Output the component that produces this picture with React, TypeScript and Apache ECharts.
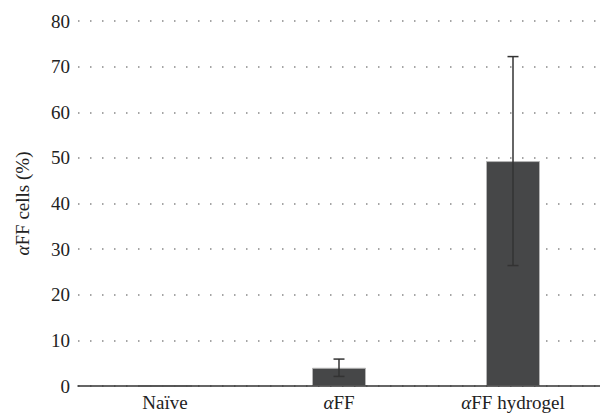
import React, { useEffect, useRef } from "react";
import * as echarts from "echarts";

const categories = ["Naïve", "αFF", "αFF hydrogel"];
const categoryLabels = ["Naïve", "{i|α}FF", "{i|α}FF hydrogel"];
const means = [0, 4.0, 49.3];
const errors = [0, 1.9, 22.9];
const yTicks = [0, 10, 20, 30, 40, 50, 60, 70, 80];

export default function App() {
  const ref = useRef<HTMLDivElement>(null);
  useEffect(() => {
    if (!ref.current) return;
    const chart = echarts.init(ref.current, undefined, { renderer: "svg" });
    const font = "Liberation Serif";
    const fs = 19;
    const errData = means
      .map((m, i) => [i, m - errors[i], m + errors[i]])
      .filter((d, i) => errors[i] > 0);
    chart.setOption({
      animation: false,
      grid: { left: 78, right: -6, top: 21, bottom: 28, containLabel: false },
      xAxis: {
        type: "category",
        data: categories,
        z: 5,
        axisLine: { show: true, lineStyle: { color: "#333", width: 1.5 } },
        axisTick: { show: false },
        axisLabel: {
          fontFamily: font,
          fontSize: fs,
          color: "#222",
          margin: 7,
          formatter: (_v: string, idx: number) => categoryLabels[idx],
          rich: {
            i: { fontStyle: "italic", fontFamily: font, fontSize: fs, color: "#222" },
          },
        },
      },
      yAxis: {
        type: "value",
        min: yTicks[0],
        max: yTicks[yTicks.length - 1],
        interval: 10,
        name: "{i|α}FF cells (%)",
        nameLocation: "middle",
        nameGap: 46,
        nameRotate: 90,
        nameTextStyle: {
          fontFamily: font,
          fontSize: fs,
          color: "#222",
          rich: {
            i: { fontStyle: "italic", fontFamily: font, fontSize: fs, color: "#222" },
          },
        },
        axisLine: { show: false },
        axisTick: { show: false },
        axisLabel: { fontFamily: font, fontSize: fs, color: "#222", margin: 8 },
        splitLine: {
          show: true,
          lineStyle: { color: "#888", width: 1.5, type: [1.5, 10.5] },
        },
      },
      series: [
        {
          type: "bar",
          data: means,
          barWidth: 54,
          itemStyle: { color: "#464748", borderColor: "#b5b5b5", borderWidth: 1 },
        },
        {
          type: "custom",
          data: errData,
          z: 10,
          renderItem: (params: any, api: any) => {
            const x = api.value(0);
            const lo = api.coord([x, api.value(1)]);
            const hi = api.coord([x, api.value(2)]);
            const cap = 5.5;
            const style = { stroke: "#333", lineWidth: 1.5 };
            return {
              type: "group",
              children: [
                { type: "line", shape: { x1: lo[0], y1: lo[1], x2: hi[0], y2: hi[1] }, style },
                { type: "line", shape: { x1: hi[0] - cap, y1: hi[1], x2: hi[0] + cap, y2: hi[1] }, style },
                { type: "line", shape: { x1: lo[0] - cap, y1: lo[1], x2: lo[0] + cap, y2: lo[1] }, style },
              ],
            };
          },
        },
      ],
    });
    return () => chart.dispose();
  }, []);
  return <div ref={ref} style={{ width: 600, height: 414, position: "absolute", left: 0, top: 0 }} />;
}
